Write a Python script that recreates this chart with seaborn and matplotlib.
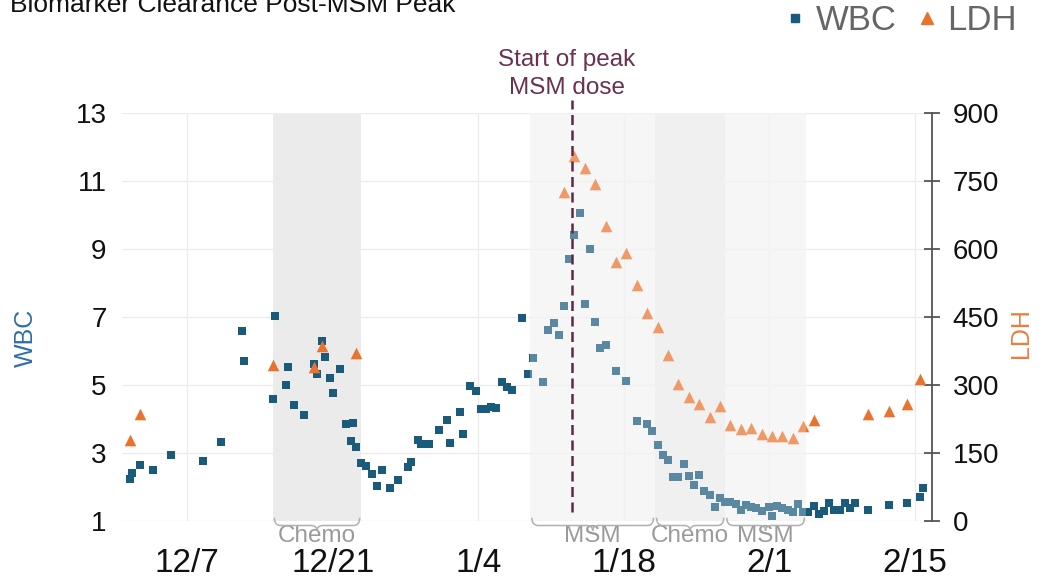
import pandas as pd
import seaborn as sns
import matplotlib.dates as mdates
import matplotlib.transforms as mtransforms
from matplotlib import pyplot as plt
from matplotlib.path import Path
from matplotlib.patches import PathPatch
from matplotlib.lines import Line2D

# WBC readings
wbc_time = [
    '2017-12-01 12:00', '2017-12-01 18:00', '2017-12-02 12:00', '2017-12-03 18:00', '2017-12-05 12:00',
    '2017-12-08 12:00', '2017-12-10 06:00', '2017-12-12 06:00', '2017-12-12 12:00', '2017-12-15 06:00',
    '2017-12-15 12:00', '2017-12-16 12:00', '2017-12-16 18:00', '2017-12-17 06:00', '2017-12-18 06:00',
    '2017-12-19 06:00', '2017-12-19 12:00', '2017-12-20 00:00', '2017-12-20 06:00', '2017-12-20 18:00',
    '2017-12-21 00:00', '2017-12-21 18:00', '2017-12-22 06:00', '2017-12-22 18:00', '2017-12-23 00:00',
    '2017-12-23 06:00', '2017-12-23 18:00', '2017-12-24 06:00', '2017-12-24 18:00', '2017-12-25 06:00',
    '2017-12-25 18:00', '2017-12-26 12:00', '2017-12-27 06:00', '2017-12-28 06:00', '2017-12-28 12:00',
    '2017-12-29 06:00', '2017-12-29 12:00', '2017-12-30 06:00', '2017-12-31 06:00', '2018-01-01 00:00',
    '2018-01-01 06:00', '2018-01-02 06:00', '2018-01-02 12:00', '2018-01-03 06:00', '2018-01-03 18:00',
    '2018-01-04 06:00', '2018-01-04 18:00', '2018-01-05 06:00', '2018-01-05 18:00', '2018-01-06 06:00',
    '2018-01-06 18:00', '2018-01-07 06:00', '2018-01-08 06:00', '2018-01-08 18:00', '2018-01-09 06:00',
    '2018-01-10 06:00', '2018-01-10 18:00', '2018-01-11 06:00', '2018-01-11 18:00', '2018-01-12 06:00',
    '2018-01-12 18:00', '2018-01-13 06:00', '2018-01-13 18:00', '2018-01-14 06:00', '2018-01-14 18:00',
    '2018-01-15 06:00', '2018-01-15 18:00', '2018-01-16 06:00', '2018-01-17 06:00', '2018-01-18 06:00',
    '2018-01-19 06:00', '2018-01-20 06:00', '2018-01-20 18:00', '2018-01-21 06:00', '2018-01-21 18:00',
    '2018-01-22 06:00', '2018-01-22 18:00', '2018-01-23 06:00', '2018-01-23 18:00', '2018-01-24 06:00',
    '2018-01-24 18:00', '2018-01-25 06:00', '2018-01-25 18:00', '2018-01-26 06:00', '2018-01-26 18:00',
    '2018-01-27 06:00', '2018-01-27 18:00', '2018-01-28 06:00', '2018-01-28 18:00', '2018-01-29 06:00',
    '2018-01-29 18:00', '2018-01-30 06:00', '2018-01-30 18:00', '2018-01-31 06:00', '2018-02-01 00:00',
    '2018-02-01 06:00', '2018-02-01 18:00', '2018-02-02 06:00', '2018-02-02 18:00', '2018-02-03 06:00',
    '2018-02-03 18:00', '2018-02-04 06:00', '2018-02-04 18:00', '2018-02-05 06:00', '2018-02-05 18:00',
    '2018-02-06 06:00', '2018-02-06 18:00', '2018-02-07 06:00', '2018-02-07 18:00', '2018-02-08 06:00',
    '2018-02-08 18:00', '2018-02-09 06:00', '2018-02-10 12:00', '2018-02-12 12:00', '2018-02-14 06:00',
    '2018-02-15 12:00', '2018-02-15 18:00',
]
wbc_value = [
    2.23, 2.42, 2.65, 2.49, 2.93, 2.76, 3.31, 6.60, 5.71, 4.60,
    7.04, 5.00, 5.54, 4.42, 4.11, 5.61, 5.32, 6.29, 5.82, 5.21,
    4.76, 5.47, 3.84, 3.35, 3.88, 3.19, 2.70, 2.63, 2.39, 2.04,
    2.49, 1.96, 2.21, 2.60, 2.74, 3.38, 3.26, 3.27, 3.69, 3.97,
    3.29, 4.21, 3.57, 4.98, 4.83, 4.29, 4.29, 4.35, 4.32, 5.08,
    4.95, 4.85, 6.97, 5.31, 5.79, 5.10, 6.63, 6.81, 6.46, 7.33,
    8.70, 9.41, 10.06, 7.38, 9.00, 6.86, 6.09, 6.19, 5.42, 5.12,
    3.95, 3.84, 3.66, 3.24, 2.94, 2.79, 2.29, 2.30, 2.68, 2.31,
    2.05, 2.36, 1.88, 1.76, 1.40, 1.69, 1.56, 1.57, 1.50, 1.33,
    1.48, 1.42, 1.39, 1.30, 1.42, 1.16, 1.44, 1.39, 1.32, 1.26,
    1.50, 1.27, 1.27, 1.45, 1.20, 1.29, 1.52, 1.32, 1.32, 1.53,
    1.39, 1.53, 1.32, 1.48, 1.53, 1.70, 1.98,
]

# LDH readings
ldh_time = [
    '2017-12-01 12:00', '2017-12-02 12:00', '2017-12-15 06:00', '2017-12-19 06:00', '2017-12-20 00:00',
    '2017-12-23 06:00', '2018-01-12 06:00', '2018-01-13 06:00', '2018-01-14 06:00', '2018-01-15 06:00',
    '2018-01-16 06:00', '2018-01-17 06:00', '2018-01-18 06:00', '2018-01-19 06:00', '2018-01-20 06:00',
    '2018-01-21 06:00', '2018-01-22 06:00', '2018-01-23 06:00', '2018-01-24 06:00', '2018-01-25 06:00',
    '2018-01-26 06:00', '2018-01-27 06:00', '2018-01-28 06:00', '2018-01-29 06:00', '2018-01-30 06:00',
    '2018-01-31 06:00', '2018-02-01 06:00', '2018-02-02 06:00', '2018-02-03 06:00', '2018-02-04 06:00',
    '2018-02-05 06:00', '2018-02-10 12:00', '2018-02-12 12:00', '2018-02-14 06:00', '2018-02-15 12:00',
]
ldh_value = [
    179, 236, 344, 340, 385, 370, 725, 806, 779, 743,
    650, 572, 591, 521, 458, 428, 366, 302, 273, 258,
    229, 254, 212, 203, 206, 193, 188, 188, 184, 210,
    223, 235, 243, 258, 313,
]

# treatment periods, left to right
period_label = ['Chemo', 'MSM', 'Chemo', 'MSM']
period_start = ['2017-12-15 06:00', '2018-01-09 00:00', '2018-01-21 00:00', '2018-01-27 18:00']
period_end = ['2017-12-23 18:00', '2018-01-21 00:00', '2018-01-27 18:00', '2018-02-04 12:00']
peak_msm_start = '2018-01-13 00:00'

date_ticks = ['2017-12-07', '2017-12-21', '2018-01-04', '2018-01-18', '2018-02-01', '2018-02-15']
date_labels = ['12/7', '12/21', '1/4', '1/18', '2/1', '2/15']
wbc_ticks = [1, 3, 5, 7, 9, 11, 13]
ldh_ticks = [0, 150, 300, 450, 600, 750, 900]

wbc_color = '#1a5b7c'
ldh_color = '#e9722f'
maroon = '#5e2944'

sns.set_theme(style='white')
plt.rcParams['font.family'] = ['Liberation Sans', 'DejaVu Sans']

wbc_df = pd.DataFrame({'date': pd.to_datetime(wbc_time), 'WBC': wbc_value})
ldh_df = pd.DataFrame({'date': pd.to_datetime(ldh_time), 'LDH': ldh_value})

fig, ax = plt.subplots(figsize=(10.39, 5.79), dpi=100)
fig.subplots_adjust(left=122 / 1039, right=932 / 1039, bottom=1 - 521 / 579, top=1 - 113 / 579)

sns.scatterplot(data=wbc_df, x='date', y='WBC', marker='s', s=30, color=wbc_color,
                linewidth=0, ax=ax, zorder=3)
ax2 = ax.twinx()
sns.scatterplot(data=ldh_df, x='date', y='LDH', marker='^', s=70, color=ldh_color,
                linewidth=0, ax=ax2, zorder=3)

# shaded periods (behind the points)
for lab, st, en in zip(period_label, period_start, period_end):
    ax.axvspan(pd.Timestamp(st), pd.Timestamp(en), color='#ebebeb' if lab == 'Chemo' else '#f3f3f3',
               lw=0, zorder=0)
# wash over the later part so points there read lighter
ax2.axvspan(pd.Timestamp(period_start[1]), pd.Timestamp(period_end[3]), color='white', alpha=0.28,
            lw=0, zorder=5)

ax.set_xlim(pd.Timestamp('2017-11-30 18:00'), pd.Timestamp('2018-02-16 15:00'))
ax.set_ylim(1, 13)
ax2.set_ylim(0, 900)
ax.set_yticks(wbc_ticks)
ax2.set_yticks(ldh_ticks)
ax.set_xticks(pd.to_datetime(date_ticks))
ax.set_xticklabels(date_labels)

ax.grid(True, color='#ececec', lw=1)
ax2.grid(False)
for sp in ax.spines.values():
    sp.set_visible(False)
for name, sp in ax2.spines.items():
    sp.set_visible(name == 'right')
ax2.spines['right'].set_color('#555555')
ax2.spines['right'].set_linewidth(1.3)

ax.tick_params(axis='y', length=0, labelsize=20, pad=11, labelcolor='#111111')
ax.tick_params(axis='x', length=0, labelsize=24, pad=19.5, labelcolor='#111111')
ax2.tick_params(axis='y', direction='inout', length=11, width=1.3, color='#555555',
                labelsize=20, pad=9.5, labelcolor='#111111')

ax.set_xlabel('')
ax.set_ylabel('WBC', color='#2f6ea8', fontsize=18, va='center')
ax.yaxis.set_label_coords(-0.119, 0.45)
ax2.set_ylabel('LDH', color='#ec7d3c', fontsize=18, va='center', rotation=90)
ax2.yaxis.set_label_coords(1.11, 0.46)

# peak dose marker
blend = mtransforms.blended_transform_factory(ax2.transData, ax2.transAxes)
peak = mdates.date2num(pd.Timestamp(peak_msm_start))
ax2.plot([peak, peak], [0.022, 1.032], transform=blend, color=maroon, lw=1.8,
         ls=(0, (4, 2.2)), clip_on=False, zorder=6)
fig.text(567 / 1039, 1 - 74 / 579, 'Start of peak\nMSM dose', ha='center', va='center',
         fontsize=17.5, color='#6a3150', linespacing=1.3)

# braces under each period
for lab, st, en in zip(period_label, period_start, period_end):
    x0 = mdates.date2num(pd.Timestamp(st)) + 0.15
    x1 = mdates.date2num(pd.Timestamp(en)) - 0.15
    xm = (x0 + x1) / 2
    r, h0, h1, h2 = 0.6, 0.008, -0.011, -0.024
    verts = [(x0, h0), (x0, h1), (x0 + r, h1), (xm - r, h1), (xm, h1), (xm, h2),
             (xm, h1), (xm + r, h1), (x1 - r, h1), (x1, h1), (x1, h0)]
    codes = [Path.MOVETO, Path.CURVE3, Path.CURVE3, Path.LINETO, Path.CURVE3, Path.CURVE3,
             Path.CURVE3, Path.CURVE3, Path.LINETO, Path.CURVE3, Path.CURVE3]
    ax2.add_patch(PathPatch(Path(verts, codes), fill=False, edgecolor='#b0b0b0', lw=1.1,
                            transform=blend, clip_on=False, zorder=6))
    ax2.text(xm, -15 / 408, lab, transform=blend, ha='center', va='center', fontsize=17.5,
             color='#9a9a9a')

fig.text(10 / 1039, 1 - 12 / 579, 'Biomarker Clearance Post-MSM Peak', ha='left', va='baseline',
         fontsize=19, color='#111111')

handles = [Line2D([], [], marker='s', ls='', color=wbc_color, markersize=6),
           Line2D([], [], marker='^', ls='', color=ldh_color, markersize=9)]
fig.legend(handles, ['WBC', 'LDH'], loc='center right', bbox_to_anchor=(1017 / 1039, 1 - 21 / 579),
           ncol=2, frameon=False, fontsize=25, labelcolor='#666666', handlelength=0.5,
           handletextpad=0.35, columnspacing=0.6, borderpad=0, borderaxespad=0)

fig.savefig('out.png', dpi=100)
